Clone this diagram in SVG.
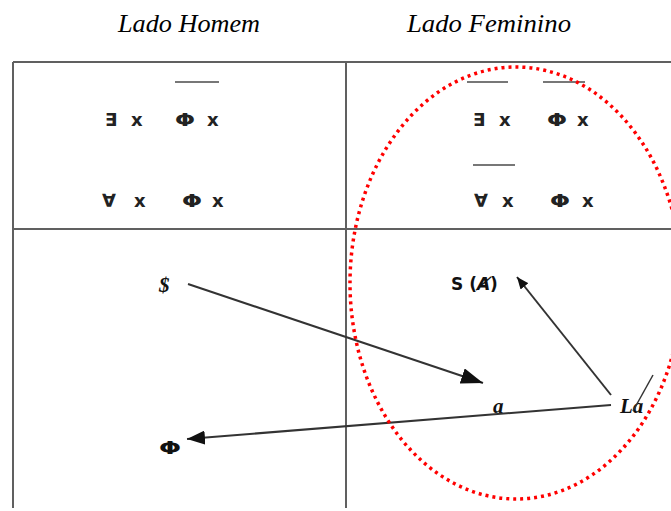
<svg xmlns="http://www.w3.org/2000/svg" width="671" height="511" viewBox="0 0 671 511">
<style>
.grid{stroke:#606060;stroke-width:2;fill:none}
.title{font-family:"Liberation Serif",serif;font-style:italic;font-size:25px;fill:#000}
.sym{font-family:"DejaVu Sans","Liberation Sans",sans-serif;font-size:18px;fill:#222;font-weight:bold}
.bar{stroke:#777;stroke-width:2}
.conn{stroke:#333;stroke-width:2;fill:none}
.lbl{font-family:"Liberation Serif",serif;font-weight:bold;font-style:italic;font-size:21px;fill:#111}
.lbls{font-family:"DejaVu Sans","Liberation Sans",sans-serif;font-weight:bold;font-size:17px;fill:#111}
</style>
<defs>
<marker id="bigA" viewBox="0 0 22 16" refX="22" refY="8" markerWidth="22" markerHeight="16" orient="auto" markerUnits="userSpaceOnUse">
<path d="M0,0 L22,8 L0,16 z" fill="#111"/>
</marker>
<marker id="midA" viewBox="0 0 18 14" refX="18" refY="7" markerWidth="18" markerHeight="14" orient="auto" markerUnits="userSpaceOnUse">
<path d="M0,0 L18,7 L0,14 z" fill="#111"/>
</marker>
<marker id="smallA" viewBox="0 0 12 10" refX="12" refY="5" markerWidth="12" markerHeight="10" orient="auto" markerUnits="userSpaceOnUse">
<path d="M0,0 L12,5 L0,10 z" fill="#111"/>
</marker>
</defs>
<rect width="671" height="511" fill="#fff"/>
<g id="titles">
<text class="title" x="189" y="32" text-anchor="middle" textLength="142" lengthAdjust="spacingAndGlyphs">Lado Homem</text>
<text class="title" x="489" y="32" text-anchor="middle" textLength="164" lengthAdjust="spacingAndGlyphs">Lado Feminino</text>
</g>
<g id="table">
<line class="grid" x1="13" y1="62" x2="671" y2="62"/>
<line class="grid" x1="13" y1="62" x2="13" y2="508"/>
<line class="grid" x1="346" y1="62" x2="346" y2="508"/>
<line class="grid" x1="13" y1="229" x2="671" y2="229"/>
</g>
<g id="homem-top">
<line class="bar" x1="175" y1="82" x2="219" y2="82"/>
<text class="sym" x="105" y="126">∃</text><text class="sym" x="131" y="126">x</text>
<text class="sym" x="175" y="126" textLength="20" lengthAdjust="spacingAndGlyphs">Φ</text><text class="sym" x="207" y="126">x</text>
<text class="sym" x="102" y="207">∀</text><text class="sym" x="134" y="207">x</text>
<text class="sym" x="182" y="207" textLength="20" lengthAdjust="spacingAndGlyphs">Φ</text><text class="sym" x="212" y="207">x</text>
</g>
<g id="feminino-top">
<line class="bar" x1="467" y1="82" x2="508" y2="82"/>
<line class="bar" x1="543" y1="82" x2="585" y2="82"/>
<text class="sym" x="473" y="126">∃</text><text class="sym" x="499" y="126">x</text>
<text class="sym" x="547" y="126" textLength="20" lengthAdjust="spacingAndGlyphs">Φ</text><text class="sym" x="577" y="126">x</text>
<line class="bar" x1="473" y1="165" x2="515" y2="165"/>
<text class="sym" x="474" y="207">∀</text><text class="sym" x="502" y="207">x</text>
<text class="sym" x="550" y="207" textLength="20" lengthAdjust="spacingAndGlyphs">Φ</text><text class="sym" x="582" y="207">x</text>
</g>
<g id="node-S-barred"><text class="lbl" x="159" y="292">$</text></g>
<g id="node-Phi"><text class="lbls" x="159" y="454" textLength="22" lengthAdjust="spacingAndGlyphs">Φ</text></g>
<g id="node-SA"><text class="lbls" x="451" y="290">S (<tspan font-style="italic">Ⱥ</tspan>)</text></g>
<g id="node-a"><text class="lbl" x="493" y="413">a</text></g>
<g id="node-La"><text class="lbl" x="620" y="413">La</text><line x1="653" y1="375" x2="633" y2="411" stroke="#333" stroke-width="1.5"/></g>
<g id="connectors">
<line class="conn" x1="188" y1="284" x2="483" y2="383" marker-end="url(#bigA)"/>
<line class="conn" x1="611" y1="405" x2="187" y2="439" marker-end="url(#midA)"/>
<line class="conn" x1="611" y1="395" x2="517" y2="277" marker-end="url(#smallA)"/>
</g>
<ellipse id="highlight" cx="516" cy="283" rx="166" ry="216" fill="none" stroke="#f00" stroke-width="3.5" stroke-dasharray="3 4"/>
</svg>
